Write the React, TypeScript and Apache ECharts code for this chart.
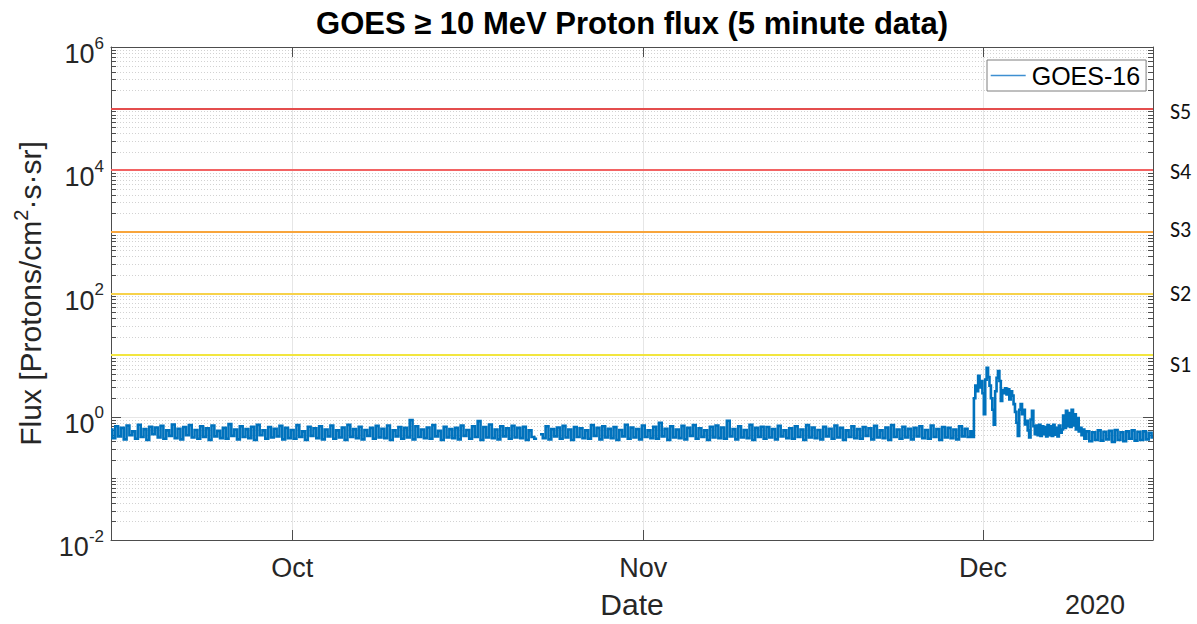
import React, { useEffect, useRef } from 'react';
import * as echarts from 'echarts';

// ---------- data ----------
const X_MIN = Date.UTC(2020, 8, 15);
const X_MAX = Date.UTC(2020, 11, 16);
const MONTH_TICKS = [Date.UTC(2020, 9, 1), Date.UTC(2020, 10, 1), Date.UTC(2020, 11, 1)];
const MONTH_NAMES = ['Oct', 'Nov', 'Dec'];
const YEAR_LABEL = '2020';

const Y_MIN = 0.01;
const Y_MAX = 1e6;

// 6-hourly samples from 15 Sep 00:00 to 29 Nov 18:00 (null = data gap)
const BASE_START = Date.UTC(2020, 8, 15);
const BASE_STEP_H = 6;
const BASE_6H: (number | null)[] = [
  0.62, 0.45, 0.70, 0.48, 0.66, 0.43, 0.72, 0.50, // Sep 15-16
  0.58, 0.44, 0.74, 0.47, 0.63, 0.42, 0.69, 0.52,
  0.67, 0.46, 0.71, 0.44, 0.60, 0.49, 0.75, 0.45,
  0.64, 0.43, 0.68, 0.50, 0.73, 0.46, 0.61, 0.44,
  0.70, 0.47, 0.65, 0.42, 0.72, 0.48, 0.59, 0.45,
  0.66, 0.44, 0.76, 0.49, 0.62, 0.43, 0.70, 0.47,
  0.63, 0.45, 0.69, 0.42, 0.74, 0.50, 0.60, 0.44,
  0.68, 0.46, 0.64, 0.48, 0.71, 0.43, 0.66, 0.45, // Sep 29-30
  0.61, 0.44, 0.73, 0.47, 0.58, 0.42, 0.69, 0.49, // Oct 1-2
  0.65, 0.45, 0.70, 0.43, 0.62, 0.48, 0.72, 0.44,
  0.60, 0.46, 0.67, 0.42, 0.74, 0.47, 0.63, 0.45,
  0.69, 0.43, 0.61, 0.49, 0.66, 0.44, 0.71, 0.46,
  0.64, 0.45, 0.72, 0.42, 0.60, 0.48, 0.68, 0.44,
  0.66, 0.46, 0.88, 0.43, 0.70, 0.47, 0.62, 0.45, // Oct 11-12
  0.67, 0.44, 0.73, 0.48, 0.59, 0.42, 0.69, 0.46,
  0.63, 0.45, 0.66, 0.43, 0.72, 0.49, 0.61, 0.44,
  0.70, 0.47, 0.85, 0.42, 0.68, 0.46, 0.75, 0.45, // Oct 17-18
  0.62, 0.43, 0.70, 0.48, 0.65, 0.44, 0.71, 0.46,
  0.66, 0.45, 0.69, 0.42, 0.60, 0.47, 0.44, null, // Oct 21-22 (gap)
  0.52, 0.45, 0.70, 0.43, 0.63, 0.48, 0.67, 0.44,
  0.71, 0.46, 0.62, 0.42, 0.68, 0.47, 0.65, 0.45,
  0.60, 0.44, 0.73, 0.49, 0.66, 0.43, 0.70, 0.46,
  0.64, 0.45, 0.68, 0.42, 0.61, 0.48, 0.74, 0.44,
  0.67, 0.46, 0.63, 0.43, 0.72, 0.47, 0.60, 0.45, // Oct 31-Nov 1
  0.69, 0.44, 0.80, 0.48, 0.64, 0.42, 0.70, 0.46,
  0.62, 0.45, 0.71, 0.43, 0.66, 0.49, 0.73, 0.44,
  0.65, 0.47, 0.60, 0.42, 0.69, 0.46, 0.72, 0.45,
  0.67, 0.44, 0.86, 0.48, 0.63, 0.43, 0.70, 0.46, // Nov 8-9
  0.61, 0.45, 0.74, 0.42, 0.66, 0.47, 0.69, 0.44,
  0.68, 0.46, 0.63, 0.43, 0.71, 0.48, 0.60, 0.45,
  0.65, 0.44, 0.70, 0.47, 0.62, 0.42, 0.73, 0.46,
  0.67, 0.45, 0.61, 0.43, 0.69, 0.48, 0.64, 0.44,
  0.72, 0.46, 0.66, 0.42, 0.60, 0.47, 0.70, 0.45,
  0.63, 0.44, 0.68, 0.49, 0.65, 0.43, 0.71, 0.46,
  0.60, 0.45, 0.67, 0.42, 0.73, 0.47, 0.62, 0.44,
  0.69, 0.46, 0.64, 0.43, 0.66, 0.48, 0.70, 0.45,
  0.61, 0.44, 0.72, 0.47, 0.63, 0.42, 0.68, 0.46,
  0.66, 0.45, 0.62, 0.43, 0.70, 0.48, 0.64, 0.47, // Nov 28-29
];

// 3-hourly samples from 30 Nov 00:00 to 9 Dec 21:00 (SEP event)
const EVENT_START = Date.UTC(2020, 10, 30);
const EVENT_STEP_H = 3;
const EVENT_3H: number[] = [
  0.58, 0.47, 2.0, 3.2, 2.6, 4.6, 3.0, 3.8,   // Nov 30
  2.4, 1.1, 4.0, 6.2, 4.4, 3.2, 2.0, 1.3,     // Dec 1
  0.74, 2.6, 4.3, 5.5, 3.8, 1.8, 2.7, 2.4,    // Dec 2
  2.9, 2.3, 2.8, 1.9, 2.6, 2.2, 1.6, 1.2,     // Dec 3
  0.8, 0.49, 1.3, 1.6, 1.1, 1.3, 0.75, 0.86,  // Dec 4
  0.6, 0.46, 0.9, 1.25, 0.7, 0.52, 0.72, 0.5, // Dec 5
  0.74, 0.49, 0.70, 0.52, 0.68, 0.48, 0.73, 0.50, // Dec 6
  0.70, 0.49, 0.74, 0.51, 0.66, 0.48, 0.72, 0.55, // Dec 7
  0.62, 1.05, 0.66, 1.25, 0.70, 1.15, 0.68, 1.30, // Dec 8
  0.72, 1.10, 0.62, 0.95, 0.58, 0.66, 0.50, 0.62, // Dec 9
];

// 6-hourly samples from 10 Dec 00:00 to 16 Dec 00:00
const TAIL_START = Date.UTC(2020, 11, 10);
const TAIL_STEP_H = 6;
const TAIL_6H: number[] = [
  0.44, 0.58, 0.40, 0.56,
  0.42, 0.60, 0.41, 0.57,
  0.43, 0.59, 0.39, 0.61,
  0.42, 0.56, 0.40, 0.58,
  0.44, 0.60, 0.41, 0.57,
  0.42, 0.58, 0.43, 0.55,
  0.46,
];

const THRESHOLD_VALUES = [1e1, 1e2, 1e3, 1e4, 1e5];
const THRESHOLD_LABELS = ['S1', 'S2', 'S3', 'S4', 'S5'];
const THRESHOLD_COLORS = ['#f2e63f', '#f7d24a', '#f8a53c', '#f26363', '#e44d4d'];

const SERIES_NAME = 'GOES-16';
const TITLE = 'GOES \u2265 10 MeV Proton flux (5 minute data)';

// ---------- helpers ----------
const H = 3600 * 1000;
const toPairs = (start: number, stepH: number, vals: (number | null)[]) =>
  vals.map((v, i) => [start + i * stepH * H, v] as [number, number | null]);

const FONT = '"Liberation Sans", Arial, Helvetica, sans-serif';
const AXIS_COLOR = '#4d4d4d';
const TEXT_COLOR = '#262626';
const LINE_COLOR = '#0072BD';

export default function App() {
  const ref = useRef<HTMLDivElement>(null);

  useEffect(() => {
    document.body.style.margin = '0';
    if (!ref.current) return;
    const chart = echarts.init(ref.current, undefined, { renderer: 'svg' });

    const flux = [
      ...toPairs(BASE_START, BASE_STEP_H, BASE_6H),
      ...toPairs(EVENT_START, EVENT_STEP_H, EVENT_3H),
      ...toPairs(TAIL_START, TAIL_STEP_H, TAIL_6H),
    ];

    // minor log grid values (2..9 per decade, plus odd decades)
    const minorVals: number[] = [];
    for (let k = -2; k < 6; k++) {
      for (let m = 1; m <= 9; m++) {
        if (m === 1 && k % 2 === 0) continue;
        minorVals.push(m * Math.pow(10, k));
      }
    }

    const monthLabel = (v: number) => {
      let best = 0;
      for (let i = 0; i < MONTH_TICKS.length; i++) {
        if (Math.abs(MONTH_TICKS[i] - v) < Math.abs(MONTH_TICKS[best] - v)) best = i;
      }
      return Math.abs(MONTH_TICKS[best] - v) < 3600 * 1000 ? MONTH_NAMES[best] : '';
    };

    const labelPads = [
      [18, 0, 0, 0],
      [0, 0, 0, 0],
      [0, 0, 4, 0],
      [2, 0, 0, 0],
      [6, 0, 0, 0],
    ];

    const option: any = {
      animation: false,
      backgroundColor: '#ffffff',
      grid: { left: 111, right: 44, top: 47, bottom: 81, containLabel: false },
      legend: {
        data: [SERIES_NAME],
        left: 987,
        top: 60,
        padding: [3, 6, 3, 3],
        itemWidth: 35,
        itemHeight: 10,
        itemGap: 5,
        borderColor: '#7f7f7f',
        borderWidth: 1,
        backgroundColor: '#ffffff',
        itemStyle: { opacity: 0 },
        lineStyle: { width: 1.4, color: '#3d8fd1' },
        textStyle: { fontSize: 25, color: '#000', fontFamily: FONT, padding: [0, 0, 0, 1] },
      },
      graphic: [
        {
          type: 'text',
          x: 632,
          y: 8,
          style: {
            text: TITLE,
            fontSize: 31,
            fontWeight: 'bold',
            fontFamily: FONT,
            fill: '#000',
            align: 'center',
            verticalAlign: 'top',
          },
        },
        {
          type: 'text',
          x: 1065,
          y: 591,
          style: {
            text: YEAR_LABEL,
            fontSize: 27,
            fontFamily: FONT,
            fill: TEXT_COLOR,
            align: 'left',
            verticalAlign: 'top',
          },
        },
      ],
      xAxis: [
        {
          type: 'value',
          min: X_MIN,
          max: X_MAX,
          position: 'bottom',
          name: 'Date',
          nameLocation: 'middle',
          nameGap: 49,
          nameTextStyle: { fontSize: 30, color: TEXT_COLOR, fontFamily: FONT },
          axisLine: { show: true, onZero: false, lineStyle: { color: AXIS_COLOR, width: 1 } },
          axisTick: { show: true, inside: true, length: 10, customValues: MONTH_TICKS, lineStyle: { color: AXIS_COLOR } },
          axisLabel: {
            show: true,
            customValues: MONTH_TICKS,
            formatter: monthLabel,
            fontSize: 27,
            color: TEXT_COLOR,
            fontFamily: FONT,
            margin: 14,
          },
          splitLine: { show: true, lineStyle: { color: '#e6e6e6', width: 1 } },
        },
        {
          type: 'value',
          min: X_MIN,
          max: X_MAX,
          position: 'top',
          axisLine: { show: true, onZero: false, lineStyle: { color: AXIS_COLOR, width: 1 } },
          axisTick: { show: true, inside: true, length: 10, customValues: MONTH_TICKS, lineStyle: { color: AXIS_COLOR } },
          axisLabel: { show: false },
          splitLine: { show: false },
        },
      ],
      yAxis: [
        {
          type: 'log',
          logBase: 10,
          min: Y_MIN,
          max: Y_MAX,
          interval: 2,
          position: 'left',
          name: 'Flux [Protons/cm{s|2}\u00B7s\u00B7sr]',
          nameLocation: 'middle',
          nameGap: 62,
          nameTextStyle: {
            fontSize: 30,
            color: TEXT_COLOR,
            fontFamily: FONT,
            rich: {
              s: { fontSize: 20, color: TEXT_COLOR, fontFamily: FONT, padding: [0, 0, 18, 0] },
            },
          },
          axisLine: { show: true, onZero: false, lineStyle: { color: AXIS_COLOR, width: 1 } },
          axisTick: { show: true, inside: true, length: 10, lineStyle: { color: AXIS_COLOR } },
          axisLabel: {
            show: true,
            margin: 7,
            formatter: (v: number) => {
              const e = Math.round(Math.log10(v));
              return `{b|10}{e|${e}}`;
            },
            rich: {
              b: { fontSize: 27, color: TEXT_COLOR, fontFamily: FONT, padding: [14, 0, 0, 0], verticalAlign: 'bottom' },
              e: { fontSize: 17, color: TEXT_COLOR, fontFamily: FONT, padding: [8, 0, 0, 0], verticalAlign: 'top' },
            },
          },
          splitLine: { show: true, lineStyle: { color: '#e6e6e6', width: 1 } },
        },
        {
          type: 'log',
          logBase: 10,
          min: Y_MIN,
          max: Y_MAX,
          interval: 2,
          position: 'right',
          axisLine: { show: true, onZero: false, lineStyle: { color: AXIS_COLOR, width: 1 } },
          axisTick: { show: true, inside: true, length: 10, lineStyle: { color: AXIS_COLOR } },
          axisLabel: { show: false },
          splitLine: { show: false },
        },
      ],
      series: [
        {
          name: 'minor-grid',
          type: 'custom',
          xAxisIndex: 0,
          yAxisIndex: 0,
          silent: true,
          z: 1,
          data: minorVals.map((v) => [X_MIN, v]),
          renderItem: (params: any, api: any) => {
            const cs = params.coordSys;
            const y = Math.round(api.coord([api.value(0), api.value(1)])[1]) + 0.5;
            const x0 = cs.x;
            const x1 = cs.x + cs.width;
            return {
              type: 'group',
              children: [
                {
                  type: 'line',
                  shape: { x1: x0, y1: y, x2: x1, y2: y },
                  style: { stroke: '#d2d2d2', lineWidth: 1, lineDash: [1, 2] },
                },
                {
                  type: 'line',
                  shape: { x1: x0, y1: y, x2: x0 + 5, y2: y },
                  style: { stroke: AXIS_COLOR, lineWidth: 1 },
                },
                {
                  type: 'line',
                  shape: { x1: x1 - 5, y1: y, x2: x1, y2: y },
                  style: { stroke: AXIS_COLOR, lineWidth: 1 },
                },
              ],
            };
          },
        },
        {
          name: SERIES_NAME,
          type: 'line',
          xAxisIndex: 0,
          yAxisIndex: 0,
          data: flux,
          showSymbol: false,
          symbol: 'none',
          step: 'middle',
          connectNulls: false,
          z: 3,
          lineStyle: { color: LINE_COLOR, width: 2.6, join: 'miter' },
          itemStyle: { color: LINE_COLOR },
          markLine: {
            silent: true,
            symbol: 'none',
            animation: false,
            data: THRESHOLD_VALUES.map((v, i) => ({
              yAxis: v,
              lineStyle: { color: THRESHOLD_COLORS[i], width: 2, type: 'solid' },
              label: {
                show: true,
                position: 'end',
                formatter: `{a|${THRESHOLD_LABELS[i]}}`,
                distance: 17,
                rich: {
                  a: {
                    fontSize: 22,
                    color: '#111',
                    fontFamily: 'Carlito, Lato, "Open Sans", sans-serif',
                    padding: labelPads[i],
                  },
                },
              },
            })),
          },
        },
      ],
    };

    chart.setOption(option);
    return () => chart.dispose();
  }, []);

  return <div ref={ref} style={{ width: 1197, height: 624 }} />;
}
